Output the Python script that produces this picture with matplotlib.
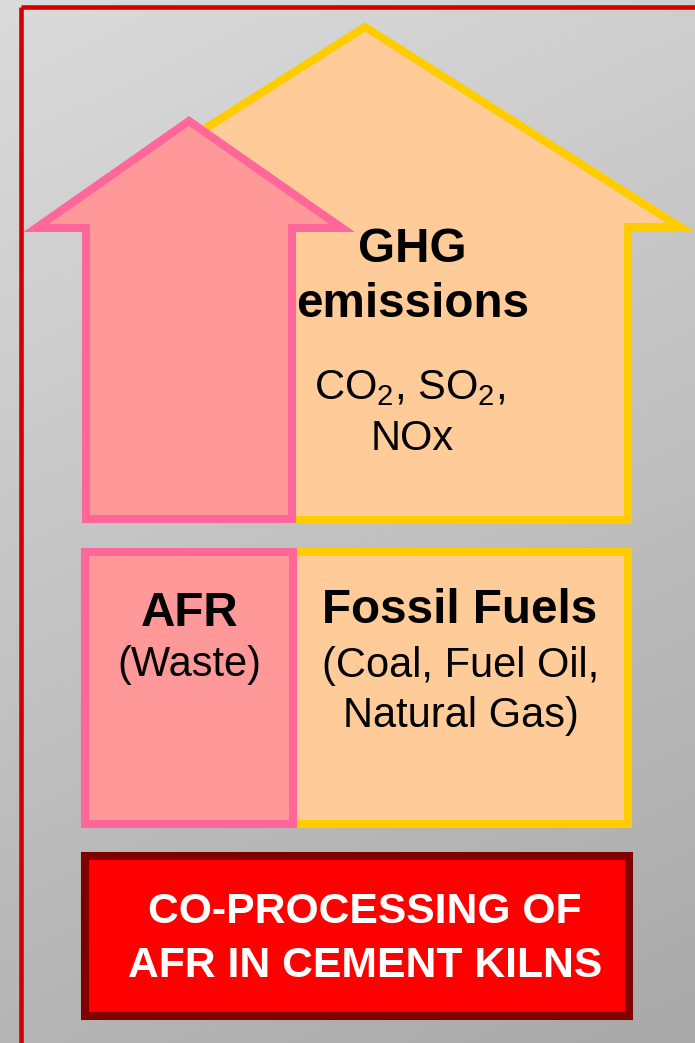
import numpy as np
import matplotlib.pyplot as plt
from matplotlib.patches import Polygon, Rectangle

plt.rcParams['font.family'] = ['Liberation Sans', 'DejaVu Sans']
plt.rcParams['mathtext.fontset'] = 'custom'
plt.rcParams['mathtext.rm'] = 'Liberation Sans'

W, H = 695, 1043

# shapes (pixel coordinates, y grows downward)
ghg_arrow = [(365, 27), (680, 227), (628, 227), (628, 520), (86, 520), (86, 227), (50, 227)]
afr_arrow = [(189, 121), (342, 228), (292, 228), (292, 519), (86, 519), (86, 228), (36, 228)]
fossil_box = (293, 552, 335, 272)   # x, y, w, h
afr_box = (85, 552, 208, 272)
kiln_box = (85, 856, 544, 160)

# texts: (label, x, y, size, bold, colour)
labels = [
    ('GHG', 412, 262, 34.3, True, 'black'),
    ('emissions', 413, 317, 34.3, True, 'black'),
    (r'CO$_\mathregular{2}$, SO$_\mathregular{2}$,', 410, 399, 30, False, 'black'),
    ('NOx', 412, 450, 30, False, 'black'),
    ('AFR', 190, 626, 34.3, True, 'black'),
    ('(Waste)', 189, 676, 30, False, 'black'),
    ('Fossil Fuels', 460, 623, 34.3, True, 'black'),
    ('(Coal, Fuel Oil,', 461, 677, 30, False, 'black'),
    ('Natural Gas)', 461, 727, 30, False, 'black'),
    ('CO-PROCESSING OF', 365, 923, 30.7, True, 'white'),
    ('AFR IN CEMENT KILNS', 365, 977, 30.7, True, 'white'),
]

pink_edge, pink_fill = '#ff6699', '#ff9999'
gold_edge, peach_fill = '#ffcc00', '#ffcc99'
lw = 5.8

fig = plt.figure(figsize=(W / 100, H / 100), dpi=100)
ax = fig.add_axes([0, 0, 1, 1])
ax.set_xlim(0, W)
ax.set_ylim(H, 0)
ax.axis('off')

# grey gradient backdrop
gx, gy = np.meshgrid(np.linspace(0, 1, 200), np.linspace(0, 1, 300))
shade = (219 - 12 * gx - 38 * gy) / 255
ax.imshow(np.dstack([shade] * 3), extent=(0, W, H, 0), aspect='auto', zorder=0)

# red frame (left and top)
ax.plot([21, 21], [7, H + 5], color='#d40000', lw=3.3, solid_capstyle='butt', zorder=1)
ax.plot([21, W + 5], [7, 7], color='#d40000', lw=3.3, solid_capstyle='butt', zorder=1)

ax.add_patch(Polygon(ghg_arrow, closed=True, fc=peach_fill, ec=gold_edge, lw=lw, zorder=2))
ax.add_patch(Polygon(afr_arrow, closed=True, fc=pink_fill, ec=pink_edge, lw=lw, zorder=3))

x, y, w, h = fossil_box
ax.add_patch(Rectangle((x, y), w, h, fc=peach_fill, ec=gold_edge, lw=lw, zorder=2))
x, y, w, h = afr_box
ax.add_patch(Rectangle((x, y), w, h, fc=pink_fill, ec=pink_edge, lw=lw, zorder=3))
x, y, w, h = kiln_box
ax.add_patch(Rectangle((x, y), w, h, fc='#ff0000', ec='#800000', lw=lw, zorder=3))

for text, tx, ty, size, bold, col in labels:
    ax.text(tx, ty, text, ha='center', va='baseline', fontsize=size,
            fontweight='bold' if bold else 'normal', color=col, zorder=5)

fig.savefig('out.png', dpi=100)
